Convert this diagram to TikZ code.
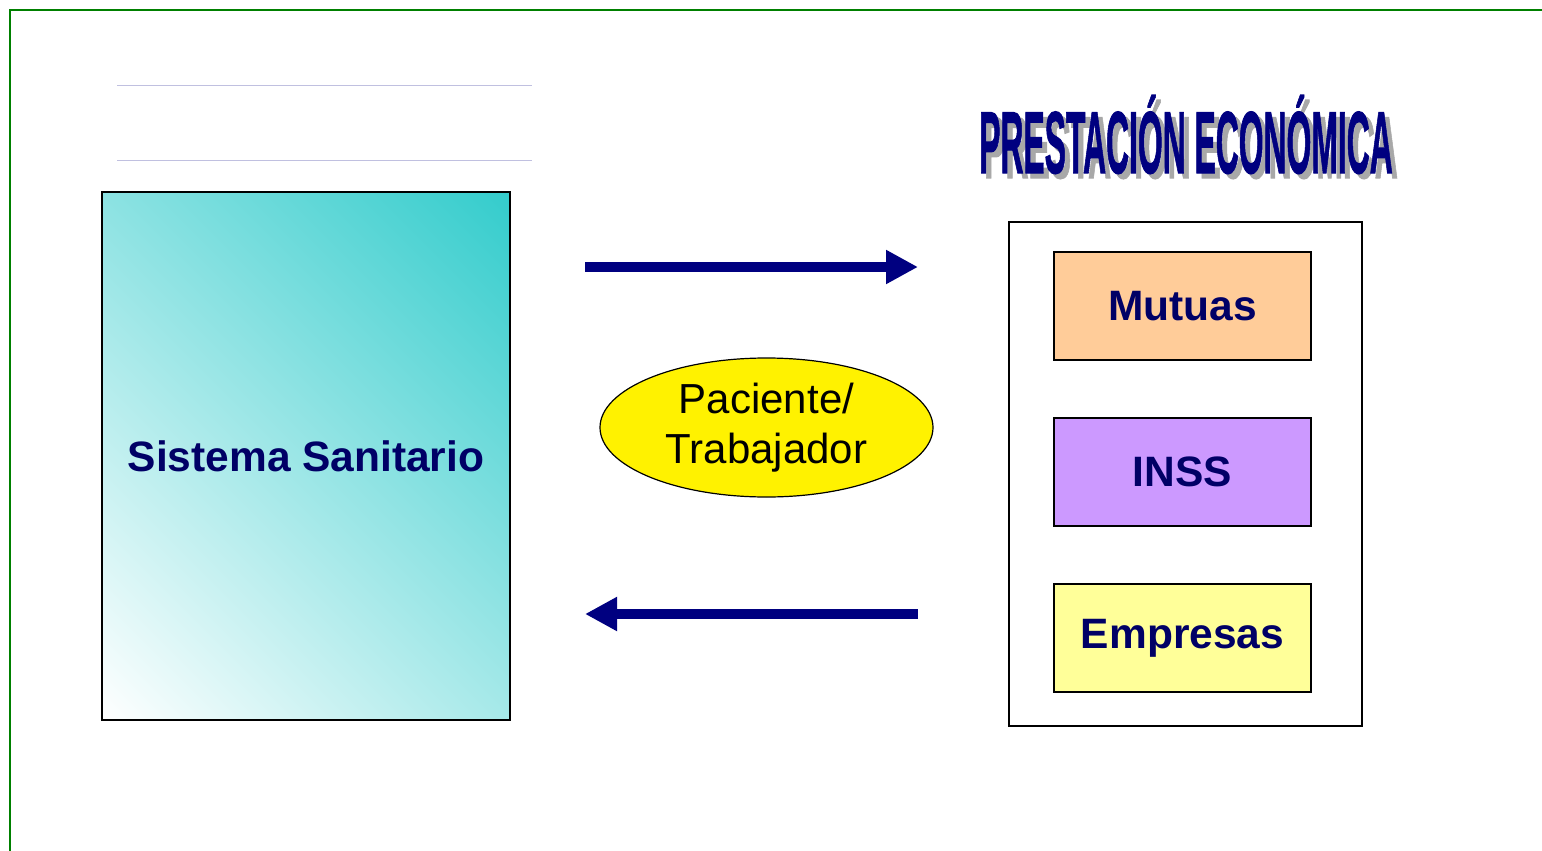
\documentclass[tikz,border=0pt]{standalone}
\usepackage{fontspec}
\setmainfont{Liberation Sans}
\newfontfamily\titlefont[FakeBold=1.5]{Liberation Sans Bold}
\usetikzlibrary{shapes.geometric,arrows.meta}
\definecolor{navytxt}{HTML}{000066}
\definecolor{navyarr}{HTML}{000080}
\definecolor{framegreen}{HTML}{008000}
\definecolor{lavline}{HTML}{C0C0E0}
\definecolor{tealtop}{HTML}{33CCCC}
\definecolor{mutuasfill}{HTML}{FFCC99}
\definecolor{inssfill}{HTML}{CC99FF}
\definecolor{empfill}{HTML}{FFFF99}
\definecolor{shadowgray}{HTML}{A8A8A8}
\tikzset{
  innerbox/.style={draw=black, line width=1.6pt, minimum width=257pt, minimum height=108pt, inner sep=0pt,
     text=navytxt, font=\bfseries\fontsize{42.5}{50}\selectfont},
  bigarrow/.style={draw=navyarr, line width=10pt, -{Triangle[length=32pt,width=32pt]}},
  titletext/.style={font=\titlefont\fontsize{88}{90}\selectfont, xscale=0.362, inner sep=0pt}
}
\begin{document}
\begin{tikzpicture}[x=1pt,y=-1pt]
\useasboundingbox (0,0) rectangle (1542,851);
% frame
\draw[framegreen, line width=2.5pt] (10,851) -- (10,10) -- (1542,10);
% lavender lines
\draw[lavline, line width=1pt] (117,85) -- (532,85);
\draw[lavline, line width=1pt] (117,160) -- (532,160);
% Sistema Sanitario gradient
\begin{scope}
  \clip (102,192) rectangle (510,720);
  \begin{scope}[transform canvas={shift={(306,456)}, rotate=45}]
    \shade[left color=white, right color=tealtop] (-331,-331) rectangle (331,331);
  \end{scope}
\end{scope}
\node[draw=black, line width=1.6pt, minimum width=408pt, minimum height=528pt, inner sep=0pt,
  text=navytxt, font=\bfseries\fontsize{42.5}{50}\selectfont] (sis) at (306,456) {\raisebox{-2pt}{Sistema Sanitario}};
% right container
\node[draw=black, line width=1.6pt, fill=white, minimum width=353pt, minimum height=504pt, inner sep=0pt] (cont) at (1185.5,474) {};
\node[innerbox, fill=mutuasfill] (mut) at (1182.5,306) {\raisebox{-2pt}{Mutuas}};
\node[innerbox, fill=inssfill] (inss) at (1182.5,472) {\raisebox{-2pt}{INSS}};
\node[innerbox, fill=empfill] (emp) at (1182.5,638) {\raisebox{-2pt}{Empresas}};
% title with shadow
\node[titletext, text=navyarr] (tit) at (1186,137) {\rlap{\kern14pt\raisebox{-5pt}{\color{shadowgray}PRESTACIÓN ECONÓMICA}}PRESTACIÓN ECONÓMICA};
% ellipse
\node[ellipse, draw=black, line width=1.2pt, fill=yellow, minimum width=333pt, minimum height=139pt, inner sep=0pt,
  align=center, font=\fontsize{42}{50}\selectfont] (pac) at (766.5,427.5) {Paciente/\\Trabajador};
% arrows
\coordinate (a1s) at (585,267);
\coordinate (a1e) at (918,267);
\coordinate (a2s) at (918,614);
\coordinate (a2e) at (585,614);
\draw[bigarrow] (a1s) -- (a1e);
\draw[bigarrow] (a2s) -- (a2e);
\end{tikzpicture}
\end{document}
